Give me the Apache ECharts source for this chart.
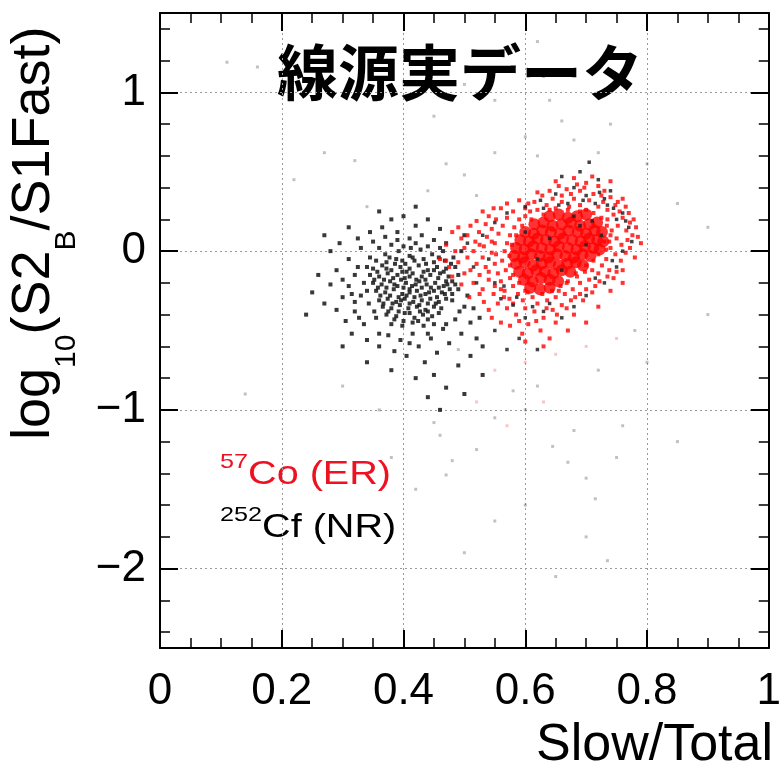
<!DOCTYPE html>
<html>
<head>
<meta charset="utf-8">
<script src="https://cdn.jsdelivr.net/npm/echarts@6/dist/echarts.min.js"></script>
<style>
  html, body { margin: 0; padding: 0; background: #fff; }
  #chart { width: 784px; height: 766px; }
</style>
</head>
<body>
<div id="chart"></div>
<script>
// axis ticks
var yMajorTicks = [-2, -1, 0, 1];
var yMinorTicks = [-2.4, -2.2, -1.8, -1.6, -1.4, -1.2, -0.8, -0.6, -0.4, -0.2, 0.2, 0.4, 0.6, 0.8, 1.2, 1.4];

// 57Co (ER): dense core of the red cloud
var coCore = [
  [0.64,0.22],[0.655,0.23],[0.67,0.21],[0.685,0.22],[0.70,0.23],
  [0.615,0.17],[0.63,0.18],[0.645,0.16],[0.66,0.17],[0.675,0.18],[0.69,0.16],[0.705,0.17],[0.718,0.18],
  [0.60,0.12],[0.614,0.11],[0.628,0.13],[0.642,0.12],[0.657,0.11],[0.671,0.13],[0.686,0.12],[0.70,0.11],[0.714,0.13],[0.726,0.12],
  [0.592,0.07],[0.606,0.06],[0.62,0.08],[0.634,0.07],[0.648,0.06],[0.662,0.08],[0.677,0.07],[0.691,0.06],[0.705,0.08],[0.718,0.07],[0.728,0.06],
  [0.585,0.02],[0.599,0.01],[0.613,0.03],[0.627,0.02],[0.641,0.01],[0.655,0.03],[0.67,0.02],[0.684,0.01],[0.698,0.03],[0.712,0.02],[0.722,0.01],
  [0.582,-0.03],[0.596,-0.04],[0.61,-0.02],[0.624,-0.03],[0.638,-0.04],[0.652,-0.02],[0.666,-0.03],[0.68,-0.04],[0.694,-0.02],[0.707,-0.03],
  [0.585,-0.08],[0.599,-0.07],[0.613,-0.09],[0.627,-0.08],[0.641,-0.07],[0.655,-0.09],[0.669,-0.08],[0.683,-0.07],[0.695,-0.09],
  [0.59,-0.13],[0.604,-0.14],[0.618,-0.12],[0.632,-0.13],[0.646,-0.14],[0.66,-0.12],[0.674,-0.13],
  [0.598,-0.18],[0.612,-0.19],[0.626,-0.17],[0.64,-0.18],[0.654,-0.19],
  [0.608,-0.23],[0.624,-0.24],[0.64,-0.23]
];

// 57Co (ER): looser points around the core
var coHalo = [
  [0.62,0.26],[0.635,0.29],[0.65,0.27],[0.66,0.31],[0.672,0.28],[0.68,0.33],[0.69,0.29],[0.70,0.26],
  [0.705,0.32],[0.712,0.36],[0.72,0.28],[0.728,0.31],[0.735,0.26],[0.74,0.34],[0.748,0.29],[0.755,0.25],
  [0.69,0.38],[0.675,0.36],[0.66,0.35],[0.645,0.33],[0.72,0.41],[0.73,0.38],[0.70,0.43],[0.615,0.31],
  [0.60,0.27],[0.64,0.38],[0.765,0.28],[0.76,0.33],[0.685,0.42],[0.655,0.41],[0.71,0.47],[0.74,0.44],
  [0.735,0.2],[0.745,0.23],[0.752,0.16],[0.76,0.21],[0.766,0.13],[0.772,0.18],[0.742,0.13],[0.75,0.08],
  [0.758,0.04],[0.768,0.07],[0.776,0.1],[0.782,0.15],[0.74,0.02],[0.748,-0.02],[0.757,-0.06],[0.765,-0.01],
  [0.733,-0.05],[0.726,-0.09],[0.738,-0.12],[0.745,-0.17],[0.72,-0.14],[0.73,0.06],[0.79,0.05],[0.78,-0.04],
  [0.71,-0.12],[0.705,-0.18],[0.698,-0.13],[0.69,-0.2],[0.685,-0.16],[0.678,-0.24],[0.67,-0.19],[0.665,-0.27],
  [0.658,-0.22],[0.65,-0.29],[0.644,-0.25],[0.636,-0.31],[0.628,-0.27],[0.62,-0.33],[0.612,-0.29],[0.604,-0.26],
  [0.596,-0.31],[0.588,-0.27],[0.58,-0.22],[0.574,-0.3],[0.566,-0.25],[0.56,-0.19],[0.615,-0.38],[0.6,-0.36],
  [0.63,-0.42],[0.645,-0.37],[0.66,-0.34],[0.675,-0.31],[0.69,-0.27],[0.7,-0.24],[0.715,-0.22],[0.585,-0.4],
  [0.57,-0.36],[0.605,-0.46],[0.625,-0.5],[0.65,-0.45],[0.595,-0.52],[0.555,-0.33],[0.575,-0.47],[0.68,-0.4],
  [0.545,-0.42],[0.64,-0.55],
  [0.575,-0.17],[0.568,-0.12],[0.562,-0.06],[0.566,0.0],[0.57,0.05],[0.575,0.1],[0.582,0.15],[0.59,0.2],
  [0.6,0.22],[0.608,0.25],[0.555,-0.14],[0.55,-0.08],[0.545,-0.01],[0.55,0.05],[0.556,0.11],[0.563,0.16],
  [0.57,0.21],[0.58,0.25],[0.54,-0.18],[0.535,-0.1],[0.53,-0.04],[0.532,0.03],[0.537,0.09],[0.545,0.14],
  [0.552,0.2],[0.525,-0.15],[0.52,-0.08],[0.515,0.0],[0.518,0.06],[0.524,0.12],[0.51,-0.12],[0.505,-0.04],
  [0.5,0.02],[0.53,-0.24],[0.515,-0.2],[0.5,-0.14],[0.49,-0.07],[0.485,0.0],[0.495,0.08],[0.51,0.16],
  [0.54,0.22],[0.56,0.27],[0.548,-0.27],[0.532,-0.32],[0.475,-0.1],[0.47,0.04],[0.46,-0.05],[0.48,0.12],
  [0.56,-0.24],
  [0.63,0.23],[0.61,0.2],[0.595,0.16],[0.585,0.1],[0.578,0.04],[0.574,-0.03],[0.575,-0.09],[0.58,-0.15],
  [0.59,-0.2],[0.6,-0.25],[0.655,-0.25],[0.668,-0.2],[0.683,-0.14],[0.7,-0.09],[0.712,-0.06],[0.72,-0.02],
  [0.733,0.01],[0.738,0.06],[0.74,0.1],[0.734,0.16],[0.725,0.21],[0.712,0.24],[0.69,0.25],[0.67,0.26],[0.64,0.26],
  [0.605,0.3],[0.628,0.35],[0.668,0.39],[0.697,0.4],[0.725,0.35],[0.752,0.31],[0.77,0.24],[0.778,0.2],
  [0.785,0.09],[0.772,0.02],[0.76,-0.12],[0.75,-0.13],[0.735,-0.16],[0.722,-0.19],[0.71,-0.26],[0.695,-0.31],
  [0.682,-0.29],[0.668,-0.36],[0.652,-0.4],[0.635,-0.36],[0.618,-0.44],[0.59,-0.44],[0.58,-0.33],[0.565,-0.29],
  [0.55,-0.22],[0.54,-0.37],[0.525,-0.27],[0.508,-0.29],[0.495,-0.21],[0.48,-0.16],[0.47,-0.06],[0.49,0.15],
  [0.505,0.1],[0.52,0.19],[0.535,0.17],[0.53,0.25],[0.548,0.27],[0.57,0.3],[0.59,0.32],[0.62,0.37],
  [0.65,0.44],[0.68,0.46],[0.6,-0.57],[0.63,-0.6],[0.67,-0.5],[0.7,-0.45],[0.72,-0.35],[0.74,-0.25],
  [0.76,-0.2],[0.56,-0.45],[0.545,0.06],[0.525,0.04],[0.54,-0.13],[0.552,-0.02]
];

// 252Cf (NR): the black cloud near 0.4
var cfCluster = [
  [0.37,-0.02],[0.392,0.0],[0.41,-0.03],[0.428,0.01],[0.447,-0.02],[0.465,0.0],
  [0.355,-0.06],[0.372,-0.07],[0.388,-0.05],[0.403,-0.08],[0.418,-0.06],[0.433,-0.05],[0.45,-0.07],[0.468,-0.06],[0.482,-0.04],
  [0.35,-0.11],[0.365,-0.09],[0.38,-0.12],[0.395,-0.1],[0.41,-0.11],[0.425,-0.09],[0.44,-0.12],[0.455,-0.1],[0.47,-0.11],[0.386,-0.08],
  [0.345,-0.15],[0.36,-0.16],[0.374,-0.14],[0.39,-0.15],[0.402,-0.17],[0.415,-0.14],[0.43,-0.16],[0.444,-0.15],[0.46,-0.14],[0.474,-0.16],[0.398,-0.13],[0.421,-0.18],
  [0.35,-0.2],[0.364,-0.21],[0.378,-0.19],[0.39,-0.22],[0.404,-0.2],[0.414,-0.22],[0.426,-0.19],[0.438,-0.21],[0.452,-0.2],[0.466,-0.22],[0.48,-0.19],[0.396,-0.18],[0.41,-0.24],[0.43,-0.23],
  [0.355,-0.25],[0.37,-0.26],[0.384,-0.24],[0.398,-0.27],[0.41,-0.26],[0.422,-0.25],[0.436,-0.27],[0.45,-0.25],[0.463,-0.26],[0.476,-0.24],[0.392,-0.29],[0.418,-0.29],
  [0.36,-0.31],[0.374,-0.3],[0.388,-0.32],[0.402,-0.3],[0.416,-0.32],[0.43,-0.31],[0.444,-0.3],[0.458,-0.32],[0.47,-0.3],
  [0.366,-0.35],[0.38,-0.36],[0.394,-0.34],[0.408,-0.36],[0.422,-0.35],[0.436,-0.37],[0.45,-0.35],[0.462,-0.36],
  [0.372,-0.4],[0.388,-0.41],[0.402,-0.39],[0.418,-0.42],[0.432,-0.4],[0.447,-0.41],
  [0.38,-0.46],[0.398,-0.47],[0.415,-0.45],[0.433,-0.47],[0.45,-0.46],
  [0.38,0.04],[0.40,0.03],[0.42,0.05],[0.44,0.03],[0.36,0.02],
  [0.377,-0.04],[0.398,-0.06],[0.415,-0.04],[0.437,-0.08],[0.458,-0.04],
  [0.357,-0.13],[0.372,-0.11],[0.405,-0.13],[0.433,-0.13],[0.45,-0.12],[0.466,-0.13],
  [0.352,-0.18],[0.368,-0.18],[0.383,-0.17],[0.41,-0.16],[0.436,-0.18],[0.457,-0.17],[0.47,-0.19],
  [0.358,-0.23],[0.372,-0.23],[0.385,-0.21],[0.4,-0.23],[0.42,-0.21],[0.445,-0.23],[0.458,-0.23],[0.472,-0.21],
  [0.362,-0.28],[0.378,-0.28],[0.405,-0.28],[0.428,-0.28],[0.442,-0.26],[0.455,-0.29],[0.468,-0.27],
  [0.367,-0.33],[0.382,-0.33],[0.396,-0.31],[0.41,-0.33],[0.426,-0.34],[0.44,-0.33],[0.453,-0.33],
  [0.375,-0.38],[0.392,-0.38],[0.41,-0.39],[0.427,-0.38],[0.44,-0.38],[0.458,-0.39],
  [0.385,-0.43],[0.4,-0.44],[0.424,-0.44],[0.44,-0.43],
  [0.345,-0.04],[0.34,-0.25],[0.343,-0.33],[0.352,-0.38],[0.48,-0.27],[0.485,-0.21],[0.478,-0.08],[0.46,0.02],
  [0.412,0.02],[0.39,0.07],[0.32,-0.32],[0.325,-0.1],[0.315,-0.27],[0.3,-0.18],[0.327,-0.42],[0.36,-0.52],
  [0.41,-0.58],[0.44,-0.52],[0.47,-0.46],[0.492,-0.38],
  [0.25,-0.26],[0.26,-0.15],[0.27,-0.33],[0.28,-0.21],[0.28,0.0],[0.29,-0.12],[0.295,0.05],[0.29,-0.37],
  [0.30,-0.29],[0.305,-0.44],[0.31,-0.05],[0.31,-0.22],[0.315,-0.52],[0.32,-0.15],[0.32,-0.38],[0.325,0.08],
  [0.33,0.02],[0.33,-0.28],[0.335,-0.2],[0.335,-0.46],[0.34,-0.1],[0.34,-0.56],[0.345,0.12],[0.35,0.06],
  [0.355,-0.42],[0.36,-0.6],[0.365,0.15],[0.37,0.09],[0.375,-0.53],[0.38,0.2],[0.385,-0.63],[0.39,0.12],
  [0.395,-0.56],[0.40,0.22],[0.405,-0.66],[0.41,0.08],[0.415,-0.52],[0.42,0.16],[0.425,-0.6],[0.43,0.1],
  [0.435,-0.7],[0.44,0.2],[0.445,-0.55],[0.45,0.07],[0.455,-0.64],[0.46,0.14],[0.465,-0.49],[0.47,0.05],
  [0.475,-0.58],[0.48,-0.31],[0.485,-0.43],[0.49,-0.15],[0.49,-0.24],[0.495,-0.52],[0.5,-0.35],[0.5,0.1],
  [0.505,-0.28],[0.51,-0.45],[0.515,-0.36],[0.52,-0.55],[0.525,-0.42],[0.53,-0.6],[0.485,-0.1],[0.495,0.0],
  [0.36,0.25],[0.42,0.28],[0.31,0.15],[0.27,0.1],[0.24,-0.4],[0.3,-0.6],[0.45,-0.78],[0.47,-0.86],
  [0.44,-0.92],[0.49,-0.72],[0.51,-0.66],[0.46,-1.0],[0.5,-0.9],[0.53,-0.78],[0.34,-0.7],[0.38,-0.75],[0.42,-0.8]
];

// 252Cf (NR): black points seen on top of the red cloud
var cfInEr = [
  [0.6,0.28],[0.625,0.32],[0.65,0.36],[0.67,0.3],[0.68,0.4],[0.7,0.35],[0.715,0.3],[0.73,0.33],
  [0.745,0.27],[0.76,0.24],[0.75,0.2],[0.77,0.15],[0.74,0.38],[0.72,0.45],[0.69,0.5],[0.66,0.47],
  [0.705,0.56],[0.71,0.19],[0.69,0.16],[0.725,0.1],[0.7,0.04],[0.76,0.0],[0.75,-0.1],[0.73,-0.2],
  [0.7,-0.28],[0.68,-0.35],[0.66,-0.42],[0.63,-0.38],[0.6,-0.42],[0.58,-0.34],[0.56,-0.3],[0.55,-0.2],
  [0.54,-0.05],[0.53,0.1],[0.55,0.18],[0.57,0.24],[0.59,-0.55],[0.62,-0.62],[0.57,-0.62],[0.55,-0.5],
  [0.64,0.08],[0.62,-0.05],[0.66,-0.12],[0.6,0.12],[0.68,0.22],
  [0.735,0.29],[0.722,0.37],[0.695,0.32],[0.655,0.29],[0.63,0.27],[0.765,0.19],[0.775,0.06],[0.743,-0.06],
  [0.715,-0.17],[0.64,-0.33],[0.612,-0.35],[0.586,-0.29],[0.565,-0.22],[0.515,-0.1],[0.505,0.05],[0.52,-0.2]
];

// faint scattered events
var sparseDark = [
  [0.11,1.19],[0.16,1.16],[0.32,0.57],[0.34,0.28],[0.22,0.45],[0.27,0.62],[0.45,0.85],[0.5,1.05],
  [0.55,0.95],[0.58,1.28],[0.62,1.32],[0.63,1.1],[0.64,0.95],[0.66,0.82],[0.6,0.72],[0.62,0.6],
  [0.68,0.7],[0.72,0.62],[0.74,0.8],[0.55,0.62],[0.5,0.48],[0.47,0.55],[0.44,0.38],[0.52,0.35],
  [0.8,0.55],[0.85,0.3],[0.9,0.15],[0.3,-0.85],[0.36,-1.0],[0.14,-0.9],
  [0.45,-1.08],[0.46,-1.16],[0.47,-1.41],[0.48,-1.32],[0.49,-0.62],[0.52,-1.25],[0.55,-1.05],[0.58,-0.88],
  [0.6,-1.0],[0.62,-0.85],[0.645,-1.23],[0.67,-1.33],[0.68,-1.13],[0.7,-1.43],[0.7,-1.8],[0.715,-1.56],
  [0.735,-1.95],[0.75,-1.3],[0.76,-1.1],[0.6,-1.6],[0.55,-1.7],[0.5,-1.9],[0.42,-1.5],[0.38,-1.3],
  [0.65,-2.05],[0.8,-0.7],[0.85,-1.2],[0.9,-0.4],[0.72,-0.75],[0.78,-0.5]
];
var sparseRed = [
  [0.55,-0.75],[0.6,-0.7],[0.65,-0.65],[0.52,-0.95],[0.57,-1.1],[0.7,-0.6],[0.75,-0.55],[0.63,-0.95]
];

var latin = '"Liberation Sans", Arial, sans-serif';
var RED = '#ff0000';

var ctx = document.createElement('canvas').getContext('2d');
function textWidth(t, size) {
  ctx.font = size + 'px ' + latin;
  return ctx.measureText(t).width;
}

// lay out pieces of text with sub/superscripts one after another
function textRun(pieces, color) {
  var cursor = 0, out = [];
  pieces.forEach(function (p) {
    out.push({
      type: 'text', x: cursor, y: p[2],
      style: { text: p[0], fontSize: p[1], fontFamily: latin, fill: color, verticalAlign: 'middle' }
    });
    cursor += textWidth(p[0], p[1]);
  });
  return out;
}

var frameLine = { show: true, onZero: false, lineStyle: { color: '#000', width: 2 } };
var gridDots = { show: true, lineStyle: { color: '#9a9a9a', width: 1, type: [2, 3] } };

function xAxisCfg(pos, labels) {
  return {
    type: 'value', position: pos, min: 0, max: 1, interval: 0.2,
    axisLine: frameLine,
    axisTick: { show: true, inside: true, length: 18, lineStyle: { color: '#000', width: 2 } },
    minorTick: { show: true, splitNumber: 4, length: 10, lineStyle: { color: '#000', width: 1.5 } },
    axisLabel: {
      show: labels, fontSize: 44, fontFamily: latin, color: '#000', margin: 22,
      formatter: function (v) { return String(v); }
    },
    splitLine: labels ? gridDots : { show: false }
  };
}

function yAxisCfg(pos, major, labels) {
  return {
    type: 'value', position: pos, min: -2.5, max: 1.5, splitNumber: 4,
    axisLine: major ? frameLine : { show: false, onZero: false },
    axisTick: {
      show: true, inside: true, length: major ? 18 : 10,
      customValues: major ? yMajorTicks : yMinorTicks,
      lineStyle: { color: '#000', width: major ? 2 : 1.5 }
    },
    axisLabel: {
      show: labels, customValues: yMajorTicks, fontSize: 44, fontFamily: latin, color: '#000', margin: 14,
      formatter: function (v) { return String(v).replace('-', '\u2212'); }
    },
    splitLine: labels ? gridDots : { show: false }
  };
}

var chart = echarts.init(document.getElementById('chart'));

var option = {
  animation: false,
  backgroundColor: '#fff',
  grid: { left: 160, right: 9, top: 13, bottom: 118 },
  xAxis: [xAxisCfg('bottom', true), xAxisCfg('top', false)],
  yAxis: [
    yAxisCfg('left', true, true),
    yAxisCfg('right', true, false),
    yAxisCfg('left', false, false),
    yAxisCfg('right', false, false)
  ],
  series: [
    { name: 'faint', type: 'scatter', data: sparseDark, symbol: 'rect', symbolSize: 3,
      itemStyle: { color: 'rgba(0,0,0,0.3)' }, silent: true },
    { name: 'faint red', type: 'scatter', data: sparseRed, symbol: 'rect', symbolSize: 3,
      itemStyle: { color: 'rgba(255,0,0,0.3)' }, silent: true },
    { name: '252Cf (NR)', type: 'scatter', data: cfCluster, symbol: 'rect', symbolSize: 4,
      itemStyle: { color: '#151515', opacity: 0.85 }, silent: true },
    { name: '57Co halo', type: 'scatter', data: coHalo, symbol: 'rect', symbolSize: 4,
      itemStyle: { color: RED, opacity: 0.8 }, silent: true },
    { name: '57Co (ER)', type: 'scatter', data: coCore, symbol: 'circle', symbolSize: 12,
      itemStyle: { color: RED }, silent: true },
    { name: '252Cf in ER', type: 'scatter', data: cfInEr, symbol: 'rect', symbolSize: 3.5,
      itemStyle: { color: '#222', opacity: 0.85 }, silent: true }
  ],
  graphic: [
    {
      type: 'text', left: 277, top: 42,
      style: {
        text: '線源実データ', fontSize: 61, fontWeight: 'bold',
        fontFamily: '"Noto Sans CJK JP", sans-serif', fill: '#000',
        shadowColor: 'rgba(0,0,0,0.55)', shadowBlur: 4, shadowOffsetX: 3, shadowOffsetY: 3
      }
    },
    {
      type: 'group', x: 34, y: 440, rotation: Math.PI / 2,
      children: textRun([['log', 54, 0], ['10', 30, 33], ['(S2', 54, 0], ['B', 30, 33], ['/S1Fast)', 54, 0]], '#000')
    },
    {
      type: 'text', right: 11, top: 720,
      style: { text: 'Slow/Total', fontSize: 52, fontFamily: latin, fill: '#000' }
    },
    {
      type: 'group', x: 220, y: 475, scaleX: 1.2,
      children: textRun([['57', 21, -13], ['Co (ER)', 33, 0]], '#ee1122')
    },
    {
      type: 'group', x: 220, y: 528, scaleX: 1.2,
      children: textRun([['252', 21, -13], ['Cf (NR)', 33, 0]], '#000')
    }
  ]
};

chart.setOption(option);
</script>
</body>
</html>
